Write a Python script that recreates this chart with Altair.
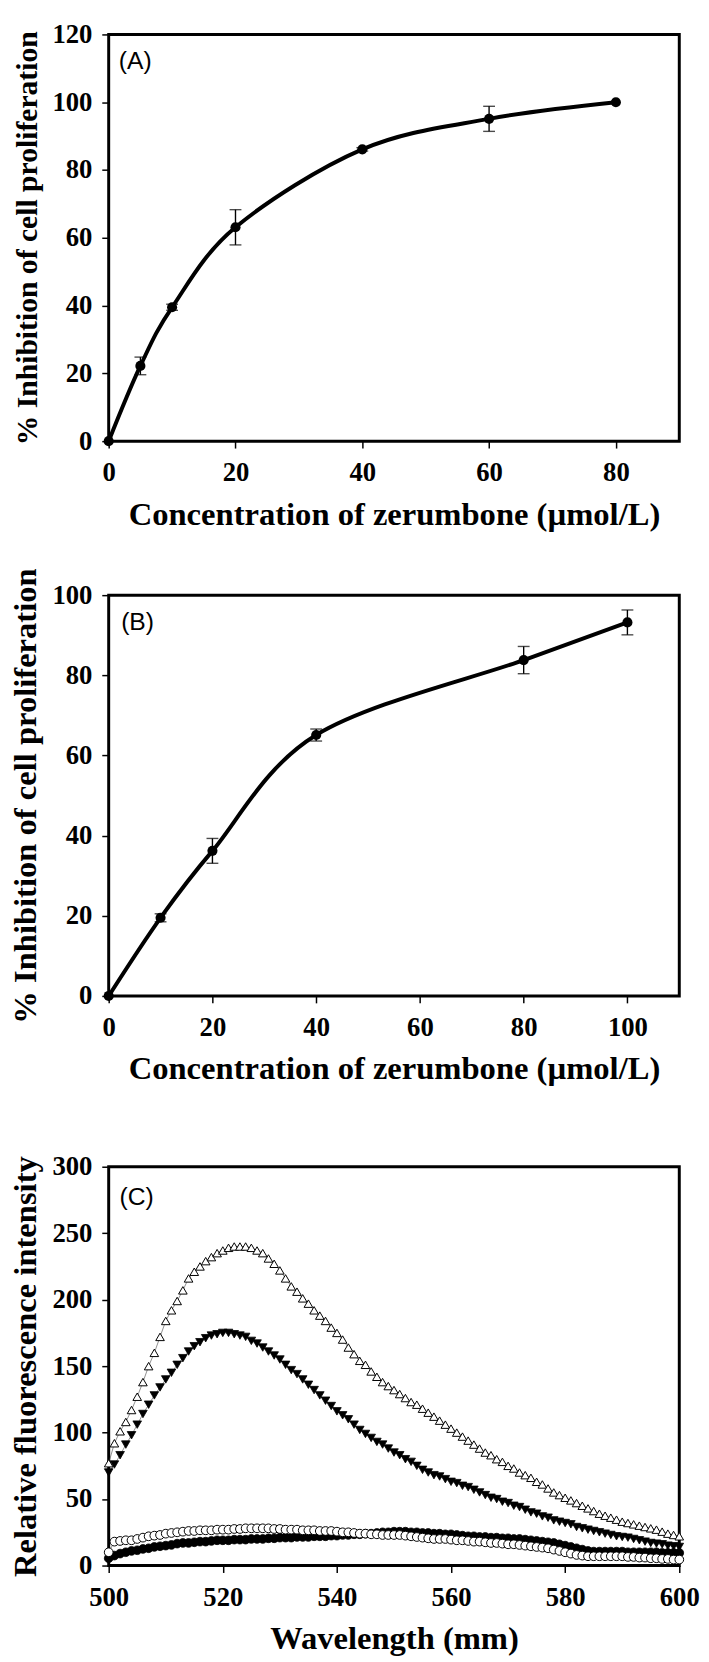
import altair as alt
import pandas as pd

# ---------------- Panel A ----------------
a_conc = [0, 5, 10, 20, 40, 60, 80]
a_inhib = [0, 22.2, 39.5, 63.1, 86.1, 95.1, 100.0]
a_err = [0, 2.6, 0.9, 5.2, 0.5, 3.7, 0]
a_xticks = [0, 20, 40, 60, 80]
a_yticks = [0, 20, 40, 60, 80, 100, 120]

# ---------------- Panel B ----------------
b_conc = [0, 10, 20, 40, 80, 100]
b_inhib = [0, 19.5, 36.2, 65.1, 83.8, 93.2]
b_err = [0, 1.0, 3.1, 1.5, 3.4, 3.1]
b_xticks = [0, 20, 40, 60, 80, 100]
b_yticks = [0, 20, 40, 60, 80, 100]

# ---------------- Panel C ----------------
wavelength = list(range(500, 601))
tri_open = [77, 92, 101, 108, 117, 127, 138, 150, 160, 172,
            184, 192, 199, 207, 216, 221, 225, 229, 232, 235,
            237, 239, 240, 240, 240, 239, 237, 235, 231, 227,
            222, 216, 210, 206, 201, 197, 192, 188, 184, 179,
            175, 170, 164, 159, 154, 151, 146, 142, 138, 135,
            132, 129, 126, 123, 121, 118, 115, 112, 109, 106,
            103, 100, 97, 94, 91, 88, 85, 83, 80, 78,
            75, 73, 70, 68, 66, 63, 61, 58, 55, 53,
            51, 49, 47, 45, 43, 41, 39, 37.5, 36, 34.5,
            33, 32, 31, 30, 29, 28, 27, 25.5, 24, 23, 22]
tri_fill = [70, 76, 83, 91, 98, 106, 114, 121, 128, 134,
            140, 145, 151, 156, 161, 165, 168, 171, 173, 174,
            175, 175, 174, 173, 172, 169, 167, 164, 161, 158,
            155, 151, 147, 144, 140, 136, 132, 128, 124, 120,
            116, 113, 110, 106, 102, 99, 96, 93, 91, 88,
            85, 83, 80, 78, 75, 72, 70, 68, 67, 65,
            63, 62, 60, 59, 57, 55, 53, 51, 50, 48,
            47, 45, 44, 42, 40, 39, 37, 36, 34, 33,
            32, 31, 29, 28, 27, 26, 25, 24, 23, 22,
            21.5, 21, 20, 19, 18, 17, 16.5, 16, 15, 14.5, 14]
circ_open = [10, 18, 18.5, 19, 19, 20, 21, 22, 22.5, 23,
             24, 24.5, 25, 25.5, 26, 26, 26.5, 26.5, 26.5, 27,
             27, 27, 27.5, 27.5, 28, 28, 28, 28, 28, 27.5,
             27.5, 27, 27, 27, 26.5, 26.5, 26.5, 26, 26, 26,
             25.5, 25, 25, 24.5, 24, 24, 23.5, 23.5, 23, 23,
             23, 23, 22.5, 22, 21.5, 21, 20.5, 20, 20, 20,
             19.5, 19, 19, 18.5, 18, 18, 17.5, 17, 17, 16.5,
             16, 16, 15.5, 15, 14.5, 14, 13.5, 13, 12, 11,
             10, 9, 8, 7.5, 7, 7, 7, 7, 7, 7,
             7, 6.5, 6.5, 6, 6, 5.5, 5.5, 5, 5, 4.5, 4.5]
circ_fill = [5.5, 7.5, 9, 10, 11, 11.5, 12.5, 13, 14, 14.5,
             15, 15.5, 16.5, 17, 17, 17.5, 18, 18, 18.5, 19,
             19, 19, 19.5, 19.5, 19.5, 20, 20, 20, 20.5, 20.5,
             21, 21, 21, 21.5, 21.5, 21.5, 22, 22, 22, 22.5,
             22.5, 23, 23, 23.5, 23.5, 24, 24, 24.5, 25, 25,
             25.5, 25.5, 25.5, 25, 25, 24.5, 24.5, 24, 24, 23.5,
             23.5, 23, 22.5, 22, 22, 21.5, 21.5, 21, 21, 20.5,
             20.5, 20, 20, 19.5, 19, 18.5, 18, 17.5, 17, 16,
             15, 14, 13, 12, 11, 10.5, 10.5, 10.5, 10.5, 10.5,
             10.5, 10, 10, 10, 10, 10, 10, 9.5, 9.5, 9.5, 9.5]
c_xticks = [500, 520, 540, 560, 580, 600]
c_yticks = [0, 50, 100, 150, 200, 250, 300]

# panel tags (data coordinates)
tag_text = ["(A)", "(B)", "(C)"]
tag_x = [1.6, 2.4, 501.9]
tag_y = [112, 93.3, 277.5]

SERIF = "Liberation Serif"
SANS = "Liberation Sans"
W = 578


def dose_panel(conc, inhib, err, xmax, ymax, xticks, yticks, tag_i, height, ytitle_size):
    df = pd.DataFrame({"conc": conc, "inhib": inhib, "err": err})
    df["lo"] = df["inhib"] - df["err"]
    df["hi"] = df["inhib"] + df["err"]
    eb = df[df["err"] > 0]
    x = alt.X("conc:Q", scale=alt.Scale(domain=[0, xmax], nice=False),
              axis=alt.Axis(values=xticks, title="Concentration of zerumbone (µmol/L)"))
    y = alt.Y("inhib:Q", scale=alt.Scale(domain=[0, ymax], nice=False),
              axis=alt.Axis(values=yticks, title="% Inhibition of cell proliferation",
                            titleFontSize=ytitle_size))
    base = alt.Chart(df)
    line = base.mark_line(color="black", strokeWidth=4, interpolate="cardinal").encode(x=x, y=y)
    rule = alt.Chart(eb).mark_rule(color="black", strokeWidth=1.4).encode(
        x="conc:Q", y="lo:Q", y2="hi:Q")
    cap_lo = alt.Chart(eb).mark_tick(color="black", orient="horizontal", size=12,
                                     thickness=1.4).encode(x="conc:Q", y="lo:Q")
    cap_hi = alt.Chart(eb).mark_tick(color="black", orient="horizontal", size=12,
                                     thickness=1.4).encode(x="conc:Q", y="hi:Q")
    pts = base.mark_circle(color="black", size=105, opacity=1).encode(x=x, y=y)
    tdf = pd.DataFrame({"t": [tag_text[tag_i]], "tx": [tag_x[tag_i]], "ty": [tag_y[tag_i]]})
    tag = alt.Chart(tdf).mark_text(font=SANS, fontSize=25, align="left", baseline="middle",
                                   color="black").encode(x="tx:Q", y="ty:Q", text="t:N")
    return alt.layer(line, rule, cap_lo, cap_hi, pts, tag).properties(width=W, height=height)


panel_a = dose_panel(a_conc, a_inhib, a_err, 90, 120, a_xticks, a_yticks, 0, 412, 30)
panel_b = dose_panel(b_conc, b_inhib, b_err, 110, 100, b_xticks, b_yticks, 1, 406, 33)

# Panel C
def series_df(vals):
    return pd.DataFrame({"wl": wavelength, "val": vals})

cx = alt.X("wl:Q", scale=alt.Scale(domain=[500, 600], nice=False, zero=False),
           axis=alt.Axis(values=c_xticks, title="Wavelength (mm)"))
cy = alt.Y("val:Q", scale=alt.Scale(domain=[0, 300], nice=False),
           axis=alt.Axis(values=c_yticks, title="Relative fluorescence intensity"))

layers = []
for vals in [circ_fill, circ_open, tri_fill, tri_open]:
    layers.append(alt.Chart(series_df(vals)).mark_line(color="#444", strokeWidth=0.6).encode(x=cx, y=cy))
layers.append(alt.Chart(series_df(circ_fill)).mark_point(
    shape="circle", filled=True, fill="black", stroke="black", strokeWidth=0.8, size=78, opacity=1
).encode(x=cx, y=cy))
layers.append(alt.Chart(series_df(circ_open)).mark_point(
    shape="circle", filled=True, fill="white", stroke="black", strokeWidth=1, size=78, opacity=1
).encode(x=cx, y=cy))
layers.append(alt.Chart(series_df(tri_fill)).mark_point(
    shape="triangle-down", filled=True, fill="black", stroke="black", strokeWidth=0.8, size=76, opacity=1
).encode(x=cx, y=cy))
layers.append(alt.Chart(series_df(tri_open)).mark_point(
    shape="triangle-up", filled=True, fill="white", stroke="black", strokeWidth=1, size=76, opacity=1
).encode(x=cx, y=cy))
ctag = pd.DataFrame({"t": [tag_text[2]], "tx": [tag_x[2]], "ty": [tag_y[2]]})
layers.append(alt.Chart(ctag).mark_text(font=SANS, fontSize=25, align="left", baseline="middle",
                                        color="black").encode(x="tx:Q", y="ty:Q", text="t:N"))
panel_c = alt.layer(*layers).properties(width=W, height=404)

chart = alt.vconcat(alt.vconcat(panel_a, panel_b, spacing=33), panel_c, spacing=64).properties(
    padding=0
).configure_view(
    stroke="black", strokeWidth=3
).configure_axis(
    labelFont=SERIF, labelFontWeight="bold", labelFontSize=27, labelColor="black",
    titleFont=SERIF, titleFontWeight="bold", titleFontSize=33, titleColor="black",
    tickColor="black", tickSize=7, tickWidth=1.5, domain=False, grid=False,
    labelFlush=False
).configure_axisX(
    labelPadding=12, titlePadding=13
).configure_axisY(
    labelPadding=10, titlePadding=10
)

chart.save("out.html", embed_options={"renderer": "svg", "actions": False})
